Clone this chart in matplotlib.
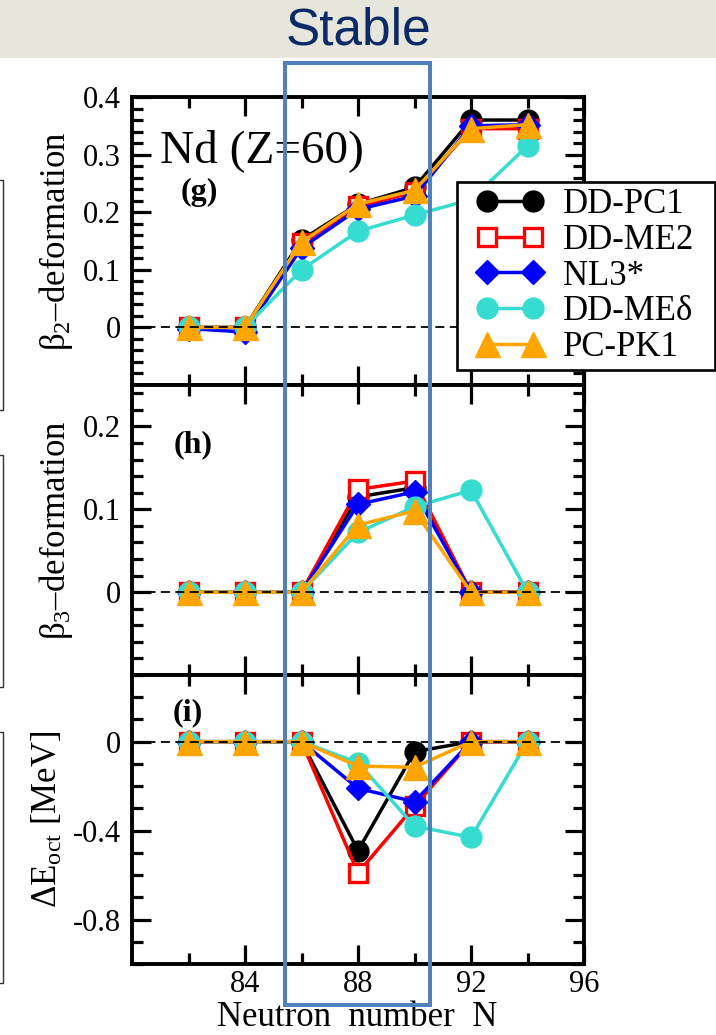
import matplotlib
matplotlib.use('Agg')
import matplotlib.pyplot as plt
from matplotlib.patches import Rectangle
from matplotlib.lines import Line2D
import numpy as np

# neutron numbers for the Nd chain
N = [82, 84, 86, 88, 90, 92, 94]

models = ['DD-PC1', 'DD-ME2', 'NL3*', 'DD-MEδ', 'PC-PK1']

# beta_2 quadrupole deformation
beta2_ddpc1 = [0.0, 0.0, 0.152, 0.214, 0.243, 0.360, 0.360]
beta2_ddme2 = [0.0, 0.0, 0.146, 0.210, 0.235, 0.345, 0.345]
beta2_nl3s = [-0.002, -0.008, 0.138, 0.205, 0.228, 0.350, 0.352]
beta2_ddmed = [0.0, 0.0, 0.100, 0.167, 0.195, 0.222, 0.315]
beta2_pcpk1 = [0.0, 0.0, 0.148, 0.214, 0.238, 0.345, 0.352]

# beta_3 octupole deformation
beta3_ddpc1 = [0.0, 0.0, 0.0, 0.115, 0.126, 0.0, 0.0]
beta3_ddme2 = [0.0, 0.0, 0.0, 0.124, 0.134, 0.0, 0.0]
beta3_nl3s = [0.0, 0.0, 0.0, 0.106, 0.121, 0.0, 0.0]
beta3_ddmed = [0.0, 0.0, 0.0, 0.072, 0.103, 0.123, 0.0]
beta3_pcpk1 = [0.0, 0.0, 0.0, 0.081, 0.098, 0.0, 0.0]

# octupole deformation energy [MeV]
eoct_ddpc1 = [0.0, 0.0, 0.0, -0.49, -0.045, 0.0, 0.0]
eoct_ddme2 = [0.0, 0.0, 0.0, -0.59, -0.29, 0.0, 0.0]
eoct_nl3s = [0.0, 0.0, 0.0, -0.21, -0.27, 0.0, 0.0]
eoct_ddmed = [0.0, 0.0, 0.0, -0.095, -0.38, -0.43, 0.0]
eoct_pcpk1 = [0.0, 0.0, 0.0, -0.11, -0.115, 0.0, 0.0]

beta2 = [beta2_ddpc1, beta2_ddme2, beta2_nl3s, beta2_ddmed, beta2_pcpk1]
beta3 = [beta3_ddpc1, beta3_ddme2, beta3_nl3s, beta3_ddmed, beta3_pcpk1]
eoct = [eoct_ddpc1, eoct_ddme2, eoct_nl3s, eoct_ddmed, eoct_pcpk1]

styles = [
    dict(color='black', marker='o', ms=15, mfc='black', mec='black'),
    dict(color='red', marker='s', ms=13, mfc='white', mec='red', mew=2.4),
    dict(color='blue', marker='D', ms=12.5, mfc='blue', mec='blue'),
    dict(color='#35dccf', marker='o', ms=15, mfc='#35dccf', mec='#35dccf'),
    dict(color='orange', marker='^', ms=18, mfc='orange', mec='orange'),
]

plt.rcParams['font.family'] = ['Liberation Serif', 'DejaVu Serif']
plt.rcParams['mathtext.fontset'] = 'custom'
plt.rcParams['mathtext.rm'] = 'Liberation Serif'
plt.rcParams['mathtext.default'] = 'regular'

W, H = 716, 1035
fig = plt.figure(figsize=(W / 100, H / 100), dpi=100)

left = 132 / W
width = (584 - 132) / W
ax_g = fig.add_axes([left, 1 - 385 / H, width, 288 / H])
ax_h = fig.add_axes([left, 1 - 675 / H, width, 290 / H])
ax_i = fig.add_axes([left, 1 - 964 / H, width, 289 / H])

for ax, data in [(ax_g, beta2), (ax_h, beta3), (ax_i, eoct)]:
    for vals, st, name in zip(data, styles, models):
        ax.plot(N, vals, lw=2.5, label=name, **st)
    ax.axhline(0, color='black', ls=(0, (5, 3)), lw=1.3, zorder=6)
    ax.set_xlim(80, 96)
    ax.set_xticks([84, 88, 92, 96])
    ax.set_xticks([82, 86, 90, 94], minor=True)
    ax.tick_params(which='both', direction='in', top=True, right=True,
                   width=2.3, labelsize=22)
    ax.tick_params(which='major', length=14, pad=8)
    ax.tick_params(which='minor', length=8)
    ax.tick_params(axis='x', which='major', pad=4)
    for sp in ax.spines.values():
        sp.set_linewidth(2.8)

for ax in (ax_g, ax_h):
    ax.tick_params(labelbottom=False)

ax_g.set_ylim(-0.1, 0.4)
ax_g.set_yticks([0, 0.1, 0.2, 0.3, 0.4])
ax_g.set_yticklabels(['0', '0.1', '0.2', '0.3', '0.4'])
ax_g.set_yticks(np.arange(-0.1, 0.401, 0.02), minor=True)

ax_h.set_ylim(-0.1, 0.25)
ax_h.set_yticks([0, 0.1, 0.2])
ax_h.set_yticklabels(['0', '0.1', '0.2'])
ax_h.set_yticks(np.arange(-0.1, 0.251, 0.02), minor=True)

ax_i.set_ylim(-1.0, 0.3)
ax_i.set_yticks([-0.8, -0.4, 0])
ax_i.set_yticklabels(['-0.8', '-0.4', '0'])
ax_i.set_yticks(np.arange(-1.0, 0.301, 0.1), minor=True)

ax_g.set_ylabel('β$_2$–deformation', fontsize=25, labelpad=6)
ax_h.set_ylabel('β$_3$–deformation', fontsize=25, labelpad=6)
ax_i.set_ylabel('ΔE$_{oct}$ [MeV]', fontsize=25, labelpad=6)
# x label placed by hand, it sits right against the bottom edge
fig.text(357 / W, 1 - 1026 / H, 'Neutron  number  N', fontsize=25,
         ha='center', va='baseline')

ax_g.text(0.062, 0.774, 'Nd (Z=60)', transform=ax_g.transAxes,
          fontsize=34, ha='left', va='baseline')
ax_g.text(0.148, 0.670, '(g)', transform=ax_g.transAxes, fontsize=23,
          fontweight='bold', ha='center', va='center')
ax_h.text(0.135, 0.793, '(h)', transform=ax_h.transAxes, fontsize=23,
          fontweight='bold', ha='center', va='center')
ax_i.text(0.124, 0.868, '(i)', transform=ax_i.transAxes, fontsize=23,
          fontweight='bold', ha='center', va='center')

# legend frame drawn separately so it can sit wider than the entries
ax_g.add_patch(Rectangle((457 / W, 1 - 370 / H), 258 / W, 188 / H,
                         transform=fig.transFigure, facecolor='white',
                         edgecolor='black', lw=1.9, zorder=9, clip_on=False))
leg = ax_g.legend(loc='upper left', bbox_to_anchor=(477 / W, 1 - 188 / H),
                  bbox_transform=fig.transFigure, fontsize=25, numpoints=2,
                  handlelength=1.9, handletextpad=0.58, labelspacing=0.08,
                  borderpad=0, borderaxespad=0, frameon=False)
leg.set_zorder(10)

# header band with the title
fig.add_artist(Rectangle((0, 1 - 58 / H), 1, 58 / H, transform=fig.transFigure,
                         facecolor='#e6e6dc', edgecolor='none', zorder=0))
fig.text(358 / W, 1 - 31 / H, 'Stable', fontsize=37, color='#0b2a66',
         family='Liberation Sans', ha='center', va='center')

# highlight box around N = 86-90
fig.add_artist(Rectangle((285 / W, 1 - 1005 / H), (430 - 285) / W, (1005 - 63) / H,
                         transform=fig.transFigure, facecolor='none',
                         edgecolor='#4f81bd', lw=2.9, zorder=20))

# leftover frame edges at the left border
for y0, y1 in [(180, 410), (455, 687), (732, 983)]:
    fig.add_artist(Line2D([0, 3 / W, 3 / W, 0], [1 - y0 / H, 1 - y0 / H, 1 - y1 / H, 1 - y1 / H],
                          transform=fig.transFigure, color='#333333', lw=1))

plt.savefig('out.png', dpi=100)
